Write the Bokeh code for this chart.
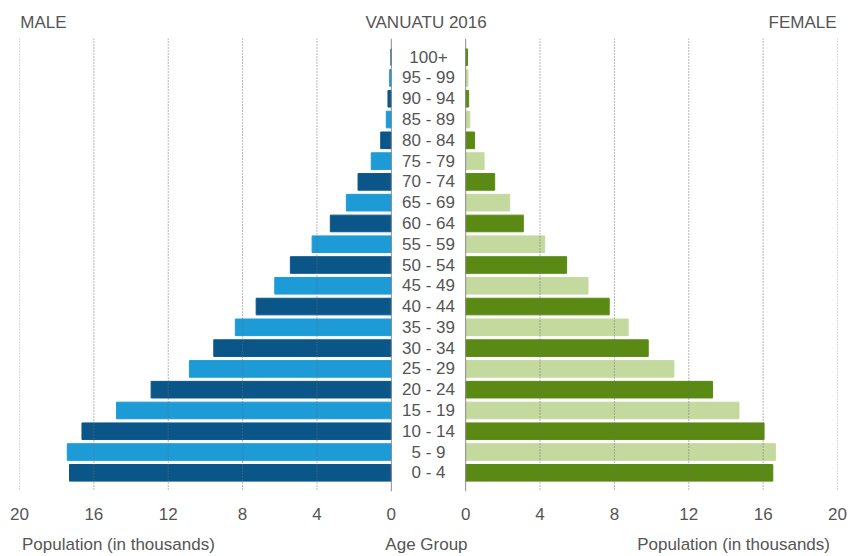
from bokeh.plotting import figure
from bokeh.models import ColumnDataSource, Range1d, FixedTicker, Span, LinearAxis
from bokeh.core.properties import value
from bokeh.embed import file_html
from bokeh.resources import INLINE

# Vanuatu 2016 population by five-year age group (thousands)
age_groups = ["0 - 4", "5 - 9", "10 - 14", "15 - 19", "20 - 24", "25 - 29", "30 - 34",
              "35 - 39", "40 - 44", "45 - 49", "50 - 54", "55 - 59", "60 - 64", "65 - 69",
              "70 - 74", "75 - 79", "80 - 84", "85 - 89", "90 - 94", "95 - 99", "100+"]
male = [17.31, 17.43, 16.64, 14.78, 12.92, 10.86, 9.55, 8.39, 7.27, 6.27, 5.43,
        4.26, 3.28, 2.42, 1.79, 1.08, 0.57, 0.27, 0.18, 0.09, 0.02]
female = [16.52, 16.66, 16.05, 14.70, 13.28, 11.20, 9.82, 8.74, 7.72, 6.58, 5.43,
          4.25, 3.10, 2.37, 1.56, 0.99, 0.48, 0.22, 0.16, 0.12, 0.10]
tick_values = [0, 4, 8, 12, 16, 20]
header_texts = ["MALE", "VANUATU 2016", "FEMALE"]
footer_texts = ["Population (in thousands)", "Age Group", "Population (in thousands)"]

FONT = "Liberation Sans"
TEXT = "#555555"
GAP = 2.0          # half-width of the centre label column, in axis units
XMAX = 20 + GAP

rows = list(range(len(age_groups)))
male_colors = ["#0b5688" if i % 2 == 0 else "#1c9bd7" for i in rows]
female_colors = ["#5b8a14" if i % 2 == 0 else "#c4d99d" for i in rows]

src = ColumnDataSource(dict(
    y=rows,
    label=age_groups,
    m_left=[-(GAP + v) for v in male],
    m_right=[-GAP] * len(rows),
    f_left=[GAP] * len(rows),
    f_right=[GAP + v for v in female],
    m_color=male_colors,
    f_color=female_colors,
))

p = figure(width=859, height=556, output_backend="svg", toolbar_location=None,
           x_range=Range1d(-XMAX, XMAX), y_range=Range1d(-0.9, 20.9),
           min_border_left=19, min_border_right=22, min_border_top=38,
           min_border_bottom=64)
p.outline_line_color = None
p.background_fill_color = "white"
p.border_fill_color = "white"
p.yaxis.visible = False
p.ygrid.grid_line_color = None
p.xgrid.grid_line_color = None


def plain_axis(axis, standoff):
    axis.axis_line_color = None
    axis.major_tick_line_color = None
    axis.minor_tick_line_color = None
    axis.major_tick_in = 0
    axis.major_tick_out = 0
    axis.minor_tick_in = 0
    axis.minor_tick_out = 0
    axis.major_label_standoff = standoff
    axis.major_label_text_font = FONT
    axis.major_label_text_font_size = "17px"
    axis.major_label_text_color = TEXT


# population axis: mirrored ticks on both sides of the label column
ticks = [-(GAP + t) for t in tick_values] + [GAP + t for t in tick_values]
overrides = {}
for t in tick_values:
    overrides[-(GAP + t)] = str(t)
    overrides[GAP + t] = str(t)
p.xaxis.ticker = FixedTicker(ticks=ticks)
p.xaxis.major_label_overrides = overrides
plain_axis(p.xaxis[0], 16)

# header row: side names and chart title
header_pos = [-20.71, -0.13, 20.12]
top_axis = LinearAxis(ticker=FixedTicker(ticks=header_pos),
                      major_label_overrides=dict(zip(header_pos, header_texts)))
plain_axis(top_axis, 7)
p.add_layout(top_axis, "above")

# footer row: axis captions
footer_pos = [-16.68, -0.11, 16.41]
bottom_axis = LinearAxis(ticker=FixedTicker(ticks=footer_pos),
                         major_label_overrides=dict(zip(footer_pos, footer_texts)))
plain_axis(bottom_axis, 12)
p.add_layout(bottom_axis, "below")

# dotted gridlines and solid zero lines
for t in tick_values:
    for side in (-1, 1):
        loc = side * (GAP + t)
        if t == 0:
            p.add_layout(Span(location=loc, dimension="height",
                              line_color="#8c8c8c", line_width=1))
        else:
            p.add_layout(Span(location=loc, dimension="height",
                              line_color="#6e6e6e", line_width=1, line_dash="1 2"))

p.hbar(y="y", left="m_left", right="m_right", height=0.8, color="m_color", source=src)
p.hbar(y="y", left="f_left", right="f_right", height=0.8, color="f_color", source=src)

p.text(x=0, y="y", text="label", source=src, text_align="center",
       text_baseline="middle", text_font=value(FONT), text_font_size="17px",
       text_color=TEXT)

open("out.html", "w").write(file_html(p, INLINE))
